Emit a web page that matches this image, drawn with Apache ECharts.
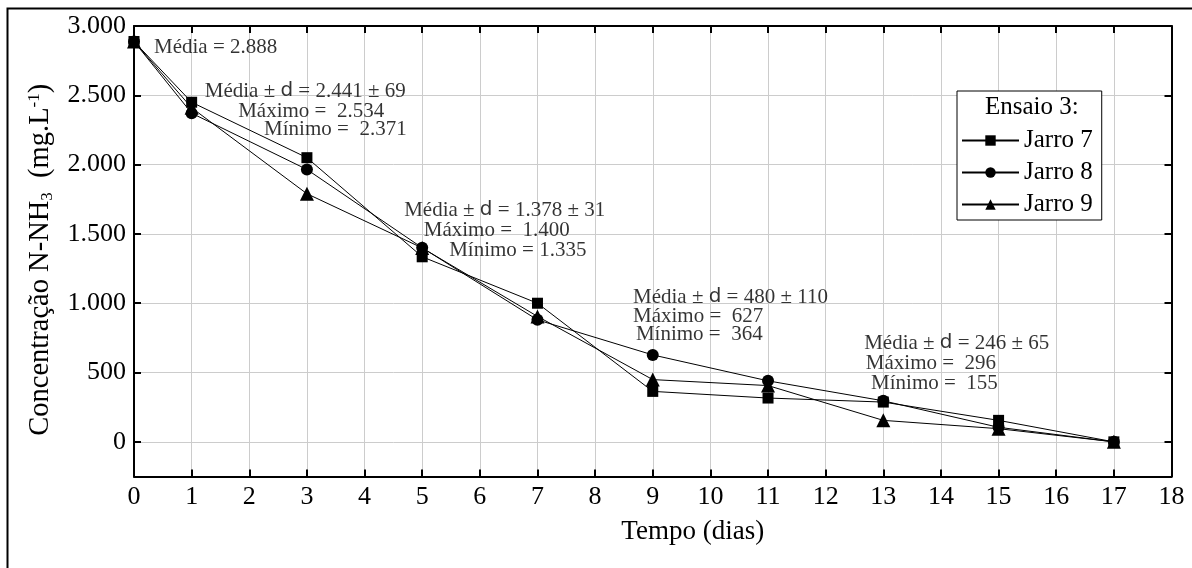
<!DOCTYPE html>
<html>
<head>
<meta charset="utf-8">
<script src="https://cdn.jsdelivr.net/npm/echarts@6/dist/echarts.min.js"></script>
<style>html,body{margin:0;padding:0;background:#fff}#c{width:1192px;height:568px}</style>
</head>
<body>
<div id="c"></div>
<script>
// ---- data ----
const days = [0, 1, 3, 5, 7, 9, 11, 13, 15, 17];
const jarro7 = [2888, 2450, 2050, 1335, 1000, 364, 316, 287, 155, 0];
const jarro8 = [2888, 2371, 1965, 1400, 880, 627, 440, 296, 105, 0];
const jarro9 = [2888, 2410, 1790, 1399, 905, 449, 406, 155, 95, 0];
const seriesNames = ['Jarro 7', 'Jarro 8', 'Jarro 9'];
const legendTitle = 'Ensaio 3:';
const xTitle = 'Tempo (dias)';
// annotation anchors [x, y, text]
const notes = [
  [0.33, 2848, 'Média = 2.888'],
  [1.21, 2531, 'Média ± {s|d} = 2.441 ± 69'],
  [1.79, 2380, 'Máximo =  2.534'],
  [2.24, 2250, 'Mínimo =  2.371'],
  [4.67, 1672, 'Média ± {s|d} = 1.378 ± 31'],
  [5.01, 1528, 'Máximo =  1.400'],
  [5.45, 1383, 'Mínimo = 1.335'],
  [8.64, 1044, 'Média ± {s|d} = 480 ± 110'],
  [8.64, 907, 'Máximo =  627'],
  [8.69, 777, 'Mínimo =  364'],
  [12.65, 712, 'Média ± {s|d} = 246 ± 65'],
  [12.68, 568, 'Máximo =  296'],
  [12.77, 424, 'Mínimo =  155']
];

const FONT = '"Liberation Serif", "Times New Roman", serif';
const pair = arr => days.map((d, i) => [d, arr[i]]);
const fmtThousands = v => String(v).replace(/\B(?=(\d{3})+(?!\d))/g, '.');

const chart = echarts.init(document.getElementById('c'), null, {renderer: 'canvas'});

const lineSeries = (name, data, symbol, size) => ({
  name, type: 'line', data: pair(data), symbol, symbolSize: size,
  lineStyle: {color: '#000', width: 1}, itemStyle: {color: '#000'},
  z: 3, animation: false
});

const axisLineStyle = {show: true, onZero: false, lineStyle: {color: '#000', width: 2}};
const tickStyle = {show: true, inside: true, length: 7, lineStyle: {color: '#000', width: 2}};

chart.setOption({
  animation: false,
  backgroundColor: '#fff',
  grid: {left: 134, right: 20.5, top: 26, bottom: 91.5, containLabel: false},
  title: {
    text: legendTitle, left: 985, top: 95, padding: 0,
    textStyle: {fontFamily: FONT, fontSize: 25, fontWeight: 'normal', color: '#000'}
  },
  legend: {
    data: seriesNames, orient: 'vertical', left: 957, top: 91,
    padding: [37, 9, 3, 4], itemWidth: 57, itemHeight: 13, itemGap: 7,
    borderColor: '#000', borderWidth: 1, backgroundColor: '#fff', borderRadius: 0,
    textStyle: {fontFamily: FONT, fontSize: 25, color: '#000', lineHeight: 25}
  },
  xAxis: [{
    type: 'value', min: 0, max: 18, interval: 1,
    axisLine: axisLineStyle, axisTick: tickStyle,
    axisLabel: {fontFamily: FONT, fontSize: 26, color: '#000', margin: 8},
    splitLine: {show: true, lineStyle: {color: '#cccccc', width: 1}},
    name: xTitle, nameLocation: 'middle', nameGap: 42,
    nameTextStyle: {fontFamily: FONT, fontSize: 27, color: '#000', padding: [0, 0, 0, 80]}
  }, {
    type: 'value', position: 'top', min: 0, max: 18, interval: 1,
    axisLine: axisLineStyle, axisTick: tickStyle,
    axisLabel: {show: false}, splitLine: {show: false}
  }],
  yAxis: [{
    type: 'value', min: -250, max: 3000, splitNumber: 6,
    axisLine: axisLineStyle, axisTick: tickStyle,
    axisLabel: {fontFamily: FONT, fontSize: 26, color: '#000', margin: 8, showMinLabel: false,
      formatter: v => fmtThousands(v)},
    splitLine: {show: true, lineStyle: {color: '#cccccc', width: 1}},
    name: 'Concentração N-NH{sub|3}  (mg.L{sup|-1})',
    nameLocation: 'middle', nameGap: 78, nameRotate: 90,
    nameTextStyle: {
      fontFamily: FONT, fontSize: 28.5, color: '#000', lineHeight: 30, padding: [0, 17, 0, 0],
      rich: {
        sub: {fontFamily: FONT, fontSize: 17, color: '#000', verticalAlign: 'bottom', lineHeight: 30, padding: [12, 0, 0, 0]},
        sup: {fontFamily: FONT, fontSize: 17, color: '#000', verticalAlign: 'top', lineHeight: 30, padding: [0, 0, 12, 0]}
      }
    }
  }, {
    type: 'value', position: 'right', min: -250, max: 3000, splitNumber: 6,
    axisLine: axisLineStyle, axisTick: tickStyle,
    axisLabel: {show: false}, splitLine: {show: false}
  }],
  series: [
    lineSeries(seriesNames[0], jarro7, 'rect', 11),
    lineSeries(seriesNames[1], jarro8, 'circle', 12),
    lineSeries(seriesNames[2], jarro9, 'triangle', 14),
    {
      type: 'scatter', data: notes.map(n => ({value: [n[0], n[1]], txt: n[2]})),
      symbolSize: 2, itemStyle: {color: 'rgba(0,0,0,0)'}, silent: true, z: 5,
      labelLayout: {hideOverlap: false},
      label: {
        show: true, position: 'right', distance: 0, color: '#000',
        fontFamily: FONT, fontSize: 21,
        formatter: p => p.data.txt,
        rich: {s: {fontFamily: '"DejaVu Sans", sans-serif', fontSize: 20, color: '#000'}}
      }
    }
  ],
  graphic: [{
    type: 'rect', left: 5, top: 6, silent: true, z: 100,
    shape: {width: 1220, height: 620},
    style: {fill: 'none', stroke: '#000', lineWidth: 2}
  }]
});
</script>
</body>
</html>
